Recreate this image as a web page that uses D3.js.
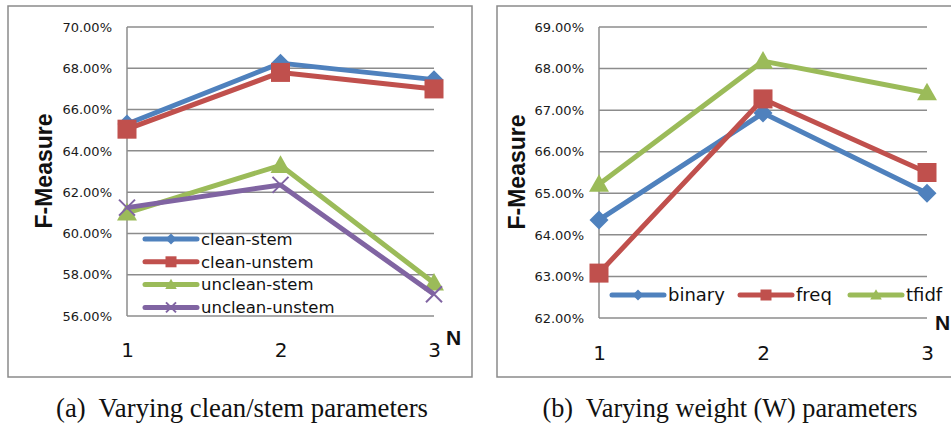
<!DOCTYPE html>
<html><head><meta charset="utf-8">
<script src="https://cdn.jsdelivr.net/npm/d3@7"></script>
<style>body{margin:0;background:#fff}svg{display:block}</style>
</head><body>
<svg id="c" width="951" height="423"></svg>
<script>
// ---- Data ----
const categories = ["1", "2", "3"];
const leftSeriesNames = ["clean-stem", "clean-unstem", "unclean-stem", "unclean-unstem"];
const cleanStem = [65.3, 68.25, 67.45];
const cleanUnstem = [65.05, 67.8, 67.0];
const uncleanStem = [61.0, 63.3, 57.6];
const uncleanUnstem = [61.25, 62.35, 57.05];
const leftTicks = [56, 58, 60, 62, 64, 66, 68, 70];

const rightSeriesNames = ["binary", "freq", "tfidf"];
const binary = [64.36, 66.93, 65.0];
const freq = [63.08, 67.27, 65.5];
const tfidf = [65.22, 68.18, 67.42];
const rightTicks = [62, 63, 64, 65, 66, 67, 68, 69];

const captions = ["(a)  Varying clean/stem parameters", "(b)  Varying weight (W) parameters"];

const colors = {blue: "#4F81BD", red: "#C0504D", green: "#9BBB59", purple: "#8064A2"};
const svg = d3.select("#c");
const grid = "#8c8c8c";

function marker(g, type, x, y, s, color) {
  if (type === "diamond") {
    g.append("path").attr("d", `M${x},${y - s}L${x + s},${y}L${x},${y + s}L${x - s},${y}Z`).attr("fill", color);
  } else if (type === "square") {
    g.append("rect").attr("x", x - s).attr("y", y - s).attr("width", 2 * s).attr("height", 2 * s).attr("fill", color);
  } else if (type === "triangle") {
    g.append("path").attr("d", `M${x},${y - s * 1.05}L${x + s * 1.05},${y + s * 0.8}L${x - s * 1.05},${y + s * 0.8}Z`).attr("fill", color);
  } else if (type === "x") {
    g.append("path").attr("d", `M${x - s},${y - s}L${x + s},${y + s}M${x - s},${y + s}L${x + s},${y - s}`)
      .attr("stroke", color).attr("stroke-width", 2).attr("fill", "none");
  }
}

function chart(cfg) {
  const g = svg.append("g");
  g.append("rect").attr("x", cfg.box[0]).attr("y", cfg.box[1]).attr("width", cfg.box[2]).attr("height", cfg.box[3])
    .attr("fill", "none").attr("stroke", "#8a8a8a").attr("stroke-width", 1.5);
  const x = d3.scalePoint().domain(categories).range([cfg.x0, cfg.x1]).padding(0);
  const y = d3.scaleLinear().domain([cfg.ticks[0], cfg.ticks[cfg.ticks.length - 1]]).range([cfg.y1, cfg.y0]);
  g.selectAll(".gl").data(cfg.ticks).enter().append("line")
    .attr("x1", cfg.x0).attr("x2", cfg.x1).attr("y1", d => y(d)).attr("y2", d => y(d))
    .attr("stroke", grid).attr("stroke-width", 1.5);
  g.append("line").attr("x1", cfg.x0).attr("x2", cfg.x0).attr("y1", cfg.y0).attr("y2", cfg.y1)
    .attr("stroke", grid).attr("stroke-width", 1.5);
  const yAxis = d3.axisLeft(y).tickValues(cfg.ticks).tickFormat(d => d.toFixed(2) + "%").tickSize(0).tickPadding(15);
  const ya = g.append("g").attr("transform", `translate(${cfg.x0},0)`).call(yAxis);
  ya.select(".domain").remove();
  ya.selectAll("text").attr("font-family", "DejaVu Sans").attr("font-size", 13).attr("fill", "#1a1a1a");
  const xAxis = d3.axisBottom(x).tickSize(0).tickPadding(0);
  const xa = g.append("g").attr("transform", `translate(0,${cfg.xLabelY})`).call(xAxis);
  xa.select(".domain").remove();
  xa.selectAll("text").attr("font-family", "DejaVu Sans").attr("font-size", 20).attr("fill", "#111")
    .attr("dy", 0).attr("y", 0);
  g.append("text").attr("x", cfg.nPos[0]).attr("y", cfg.nPos[1]).text("N")
    .attr("font-family", "Liberation Sans").attr("font-weight", "bold").attr("font-size", 21).attr("fill", "#111");
  g.append("text").attr("transform", `translate(${cfg.yTitle[0]},${cfg.yTitle[1]}) rotate(-90)`)
    .attr("text-anchor", "middle").text("F-Measure")
    .attr("font-family", "Liberation Sans").attr("font-weight", "bold").attr("font-size", 23).attr("fill", "#111");
  const line = d3.line().x((d, i) => x(categories[i])).y(d => y(d));
  cfg.series.forEach(s => {
    g.append("path").datum(s.values).attr("d", line).attr("fill", "none")
      .attr("stroke", s.color).attr("stroke-width", 5).attr("stroke-linejoin", "round");
    s.values.forEach((v, i) => marker(g, s.marker, x(categories[i]), y(v), s.marker === "x" ? 8 : 9.5, s.color));
  });
  cfg.series.forEach((s, i) => {
    const [lx, ly] = cfg.legendPos(i);
    g.append("line").attr("x1", lx).attr("x2", lx + 52).attr("y1", ly).attr("y2", ly)
      .attr("stroke", s.color).attr("stroke-width", 5).attr("stroke-linecap", "round");
    marker(g, s.marker, lx + 26, ly, s.marker === "x" ? 5 : 5.5, s.color);
    g.append("text").attr("x", lx + 56).attr("y", ly).attr("dy", "0.35em").text(s.name)
      .attr("font-family", "DejaVu Sans").attr("font-size", cfg.legendFont).attr("fill", "#111");
  });
  g.append("text").attr("x", cfg.caption[0]).attr("y", cfg.caption[1]).attr("text-anchor", "middle")
    .text(cfg.captionText).attr("font-family", "Liberation Serif").attr("font-size", 26.5).attr("fill", "#111")
    .attr("textLength", cfg.captionLen).attr("lengthAdjust", "spacingAndGlyphs")
    .style("white-space", "pre");
}

chart({
  box: [8, 6, 464, 371], x0: 127, x1: 434, y0: 27, y1: 316, ticks: leftTicks, xLabelY: 357,
  nPos: [446, 345], yTitle: [52, 171], legendFont: 16.5, caption: [242, 417], captionLen: 372, captionText: captions[0],
  series: [
    {name: leftSeriesNames[0], values: cleanStem, color: colors.blue, marker: "diamond"},
    {name: leftSeriesNames[1], values: cleanUnstem, color: colors.red, marker: "square"},
    {name: leftSeriesNames[2], values: uncleanStem, color: colors.green, marker: "triangle"},
    {name: leftSeriesNames[3], values: uncleanUnstem, color: colors.purple, marker: "x"}
  ],
  legendPos: i => [145, 239 + i * 22.8]
});

chart({
  box: [497, 6, 460, 371], x0: 599, x1: 927, y0: 27, y1: 318, ticks: rightTicks, xLabelY: 360,
  nPos: [935, 330], yTitle: [525, 172], legendFont: 18, caption: [730, 417], captionLen: 375, captionText: captions[1],
  series: [
    {name: rightSeriesNames[0], values: binary, color: colors.blue, marker: "diamond"},
    {name: rightSeriesNames[1], values: freq, color: colors.red, marker: "square"},
    {name: rightSeriesNames[2], values: tfidf, color: colors.green, marker: "triangle"}
  ],
  legendPos: i => [[612, 740, 850][i], 295]
});
</script>
</body></html>
